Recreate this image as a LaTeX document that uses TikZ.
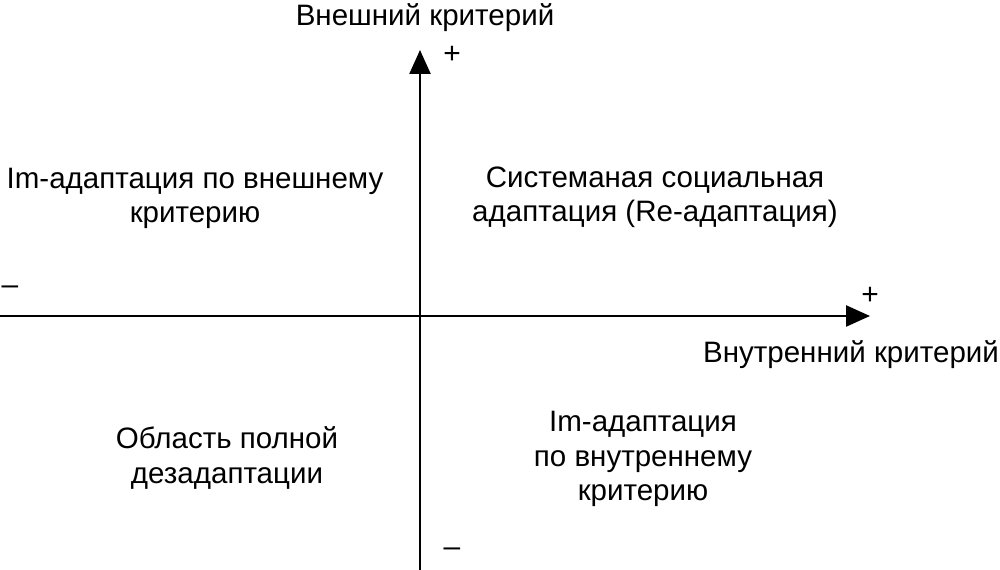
\documentclass[tikz,border=0pt]{standalone}
\usepackage{fontspec}
\setmainfont{Liberation Sans}
\usetikzlibrary{arrows.meta}

\begin{document}
\begin{tikzpicture}[
      x=0.2mm, y=-0.2mm,
      axis/.style={line width=1.4pt, -{Triangle[length=4.8mm, width=4.2mm]}},
      lbl/.style={font=\fontsize{16.8}{19.4}\selectfont, align=center, inner sep=0pt},
      sgn/.style={font=\fontsize{17}{19}\selectfont, inner sep=0pt}
    ]
    \useasboundingbox (0,0) rectangle (1000,570);
    % ---------------- axes ----------------
    \coordinate (xl) at (0,316);
    \coordinate (xr) at (870,316);
    \coordinate (yb) at (420,570);
    \coordinate (yt) at (420,50);
    \draw[axis] (xl) -- (xr);
    \draw[axis] (yb) -- (yt);
    % ---------------- axis labels ----------------
    \node[lbl] (ext) at (425,18) {Внешний критерий};
    \node[lbl] (int) at (851,355) {Внутренний критерий};
    \node[sgn] (ytop) at (452,55) {+};
    \node[sgn] (ybot) at (452,552) {--};
    \node[sgn] (xrgt) at (870,296) {+};
    \node[sgn] (xlft) at (10,290) {--};
    % ---------------- quadrants ----------------
    \node[lbl] (q2) at (195,198) {Im-адаптация по внешнему\\критерию};
    \node[lbl] (q1) at (655,197) {Системаная социальная\\адаптация (Re-адаптация)};
    \node[lbl] (q3) at (227,458) {Область полной\\дезадаптации};
    \node[lbl] (q4) at (643,459) {Im-адаптация\\по внутреннему\\критерию};
  \end{tikzpicture}
\end{document}
